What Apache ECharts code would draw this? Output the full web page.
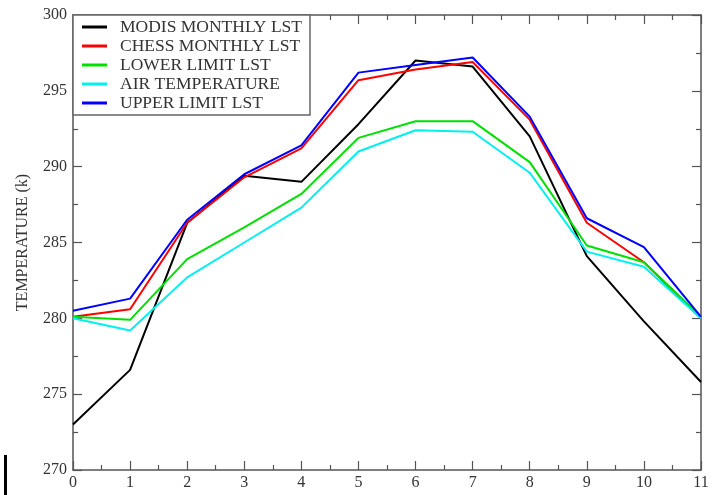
<!DOCTYPE html>
<html>
<head>
<meta charset="utf-8">
<script src="https://cdn.jsdelivr.net/npm/echarts@6/dist/echarts.min.js"></script>
<style>
  html, body { margin: 0; padding: 0; background: #fff; }
  #chart { width: 714px; height: 495px; }
</style>
</head>
<body>
<div id="chart"></div>
<script>
// Month index along the x axis
const months = [0, 1, 2, 3, 4, 5, 6, 7, 8, 9, 10, 11];

// Monthly temperatures (K)
const modisLst = [273.0, 276.6, 286.3, 289.4, 289.0, 292.8, 297.0, 296.6, 292.0, 284.1, 279.8, 275.8];
const chessLst = [280.1, 280.6, 286.3, 289.3, 291.2, 295.7, 296.4, 296.9, 293.1, 286.3, 283.7, 280.0];
const lowerLimitLst = [280.1, 279.9, 283.9, 286.0, 288.2, 291.9, 293.0, 293.0, 290.3, 284.8, 283.7, 280.1];
const airTemperature = [280.0, 279.2, 282.7, 285.0, 287.3, 291.0, 292.4, 292.3, 289.6, 284.4, 283.4, 280.0];
const upperLimitLst = [280.5, 281.3, 286.5, 289.5, 291.4, 296.2, 296.7, 297.2, 293.3, 286.6, 284.7, 280.1];

const seriesNames = ['MODIS MONTHLY LST', 'CHESS MONTHLY LST', 'LOWER LIMIT LST', 'AIR TEMPERATURE', 'UPPER LIMIT LST'];
const seriesValues = [modisLst, chessLst, lowerLimitLst, airTemperature, upperLimitLst];
const seriesColors = ['#000000', '#ff0000', '#00e000', '#00f0f0', '#0000ff'];

const serif = '"Liberation Serif", "DejaVu Serif", serif';
const axisColor = '#555';

const chart = echarts.init(document.getElementById('chart'), null, { renderer: 'canvas' });

const series = seriesNames.map((name, i) => ({
  name,
  type: 'line',
  xAxisIndex: 0,
  yAxisIndex: 0,
  data: months.map((m, k) => [m, seriesValues[i][k]]),
  showSymbol: false,
  symbol: 'none',
  lineStyle: { color: seriesColors[i], width: 2 },
  itemStyle: { color: seriesColors[i] },
  animation: false
}));

const tickInside = { inside: true, length: 9, lineStyle: { color: axisColor, width: 1.2 } };
const minorInside = { show: true, splitNumber: 2, length: 5, lineStyle: { color: axisColor, width: 1.2 } };

chart.setOption({
  backgroundColor: '#fff',
  animation: false,
  grid: { left: 73, right: 13, top: 15, bottom: 25, show: false },
  legend: {
    left: 73,
    top: 15,
    orient: 'vertical',
    data: seriesNames.map((n, i) => ({ name: n, icon: 'rect', itemStyle: { color: seriesColors[i] } })),
    itemWidth: 25,
    itemHeight: 3,
    itemGap: 1,
    padding: [3, 8, 3, 9],
    borderColor: '#666',
    borderWidth: 1.5,
    backgroundColor: '#fff',
    textStyle: { fontFamily: serif, fontSize: 17.5, color: '#333', padding: [0, 0, 0, 8] },
    selectedMode: false
  },
  xAxis: [
    {
      type: 'value', min: 0, max: 11, interval: 1, position: 'bottom',
      axisLine: { show: true, onZero: false, lineStyle: { color: axisColor, width: 1.5 } },
      axisTick: tickInside, minorTick: minorInside,
      axisLabel: { fontFamily: serif, fontSize: 16, color: '#333', margin: 5 },
      splitLine: { show: false }
    },
    {
      type: 'value', min: 0, max: 11, interval: 1, position: 'top',
      axisLine: { show: true, onZero: false, lineStyle: { color: axisColor, width: 1.5 } },
      axisTick: tickInside, minorTick: minorInside,
      axisLabel: { show: false }, splitLine: { show: false }
    }
  ],
  yAxis: [
    {
      type: 'value', min: 270, max: 300, interval: 5, position: 'left',
      name: 'TEMPERATURE (k)', nameLocation: 'middle', nameGap: 42,
      nameTextStyle: { fontFamily: serif, fontSize: 16, color: '#333' },
      axisLine: { show: true, onZero: false, lineStyle: { color: axisColor, width: 1.5 } },
      axisTick: tickInside, minorTick: minorInside,
      axisLabel: { fontFamily: serif, fontSize: 16, color: '#333', margin: 6 },
      splitLine: { show: false }
    },
    {
      type: 'value', min: 270, max: 300, interval: 5, position: 'right',
      axisLine: { show: true, onZero: false, lineStyle: { color: axisColor, width: 1.5 } },
      axisTick: tickInside, minorTick: minorInside,
      axisLabel: { show: false }, splitLine: { show: false }
    }
  ],
  series,
  graphic: [
    { type: 'rect', left: 4, top: 455, shape: { width: 3, height: 40 }, style: { fill: '#000' } }
  ]
});
</script>
</body>
</html>
